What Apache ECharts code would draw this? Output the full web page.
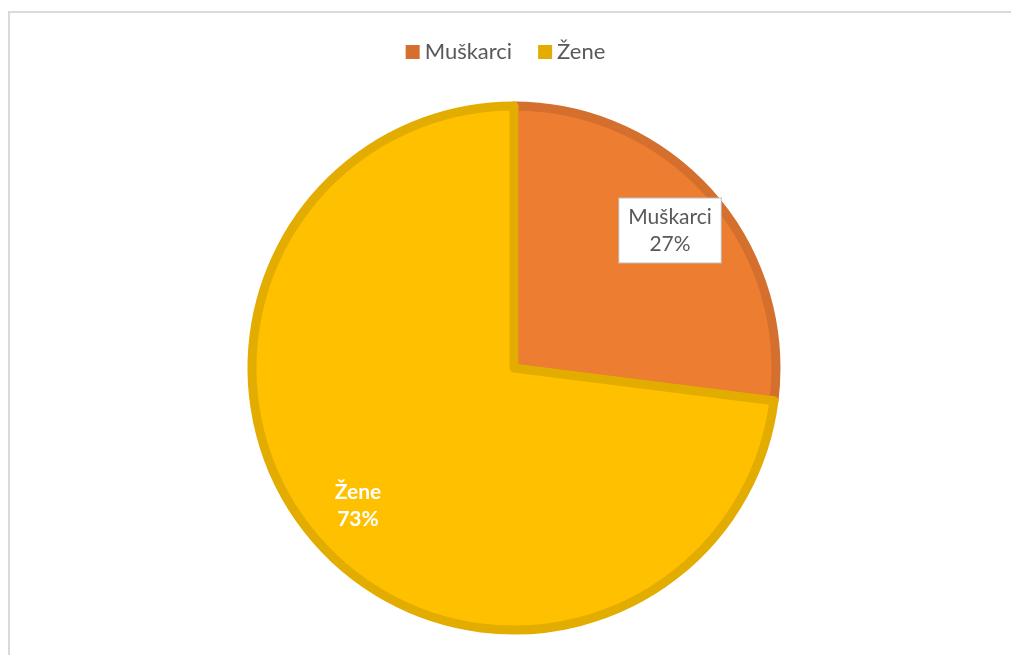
<!DOCTYPE html>
<html>
<head>
<meta charset="utf-8">
<script src="https://cdn.jsdelivr.net/npm/echarts@6/dist/echarts.min.js"></script>
<style>
  html, body { margin: 0; padding: 0; background: #fff; }
  #frame { position: absolute; left: 8px; top: 11px; width: 1003px; height: 644px;
           border-left: 2px solid #d9d9d9; border-top: 2px solid #d9d9d9; box-sizing: border-box; }
  #chart { position: absolute; left: 0; top: 0; width: 1011px; height: 655px; }
</style>
</head>
<body>
<div id="frame"></div>
<div id="chart"></div>
<script>
var categories = ['Muškarci', 'Žene'];
var values = [27, 73];
var fills = ['#ED7D31', '#FFC000'];
var borders = ['#D46F2E', '#E3AC00'];

var chart = echarts.init(document.getElementById('chart'));

var pieData = categories.map(function (name, i) {
    return {
        name: name,
        value: values[i],
        itemStyle: { color: fills[i], borderColor: borders[i] }
    };
});

// labels sit on a transparent ring so they land ~3/4 out along the radius
var labelData = categories.map(function (name, i) {
    return {
        name: name,
        value: values[i],
        label: i === 0 ? {
            color: '#595959',
            fontWeight: 'normal',
            backgroundColor: '#fff',
            borderColor: '#bfbfbf',
            borderWidth: 1,
            padding: [6, 9, 4, 9]
        } : {
            color: '#fff',
            fontWeight: 'bold'
        }
    };
});

var option = {
    animation: false,
    legend: {
        top: 36,
        left: 'center',
        itemWidth: 14,
        itemHeight: 14,
        itemGap: 26,
        icon: 'rect',
        textStyle: { fontFamily: 'Lato', fontSize: 22, color: '#595959' },
        data: categories.map(function (c, i) {
            return { name: c, itemStyle: { color: borders[i], borderWidth: 0 } };
        })
    },
    series: [{
        type: 'pie',
        center: [514, 368],
        radius: [0, 262],
        startAngle: 90,
        clockwise: true,
        silent: true,
        label: { show: false },
        labelLine: { show: false },
        itemStyle: { borderWidth: 9 },
        data: pieData
    }, {
        type: 'pie',
        center: [514, 368],
        radius: [148, 262],
        startAngle: 90,
        clockwise: true,
        silent: true,
        itemStyle: { color: 'transparent' },
        labelLine: { show: false },
        label: {
            show: true,
            position: 'inside',
            fontFamily: 'Lato',
            fontSize: 21,
            lineHeight: 27,
            formatter: '{b}\n{d}%'
        },
        data: labelData
    }]
};

chart.setOption(option);
</script>
</body>
</html>
